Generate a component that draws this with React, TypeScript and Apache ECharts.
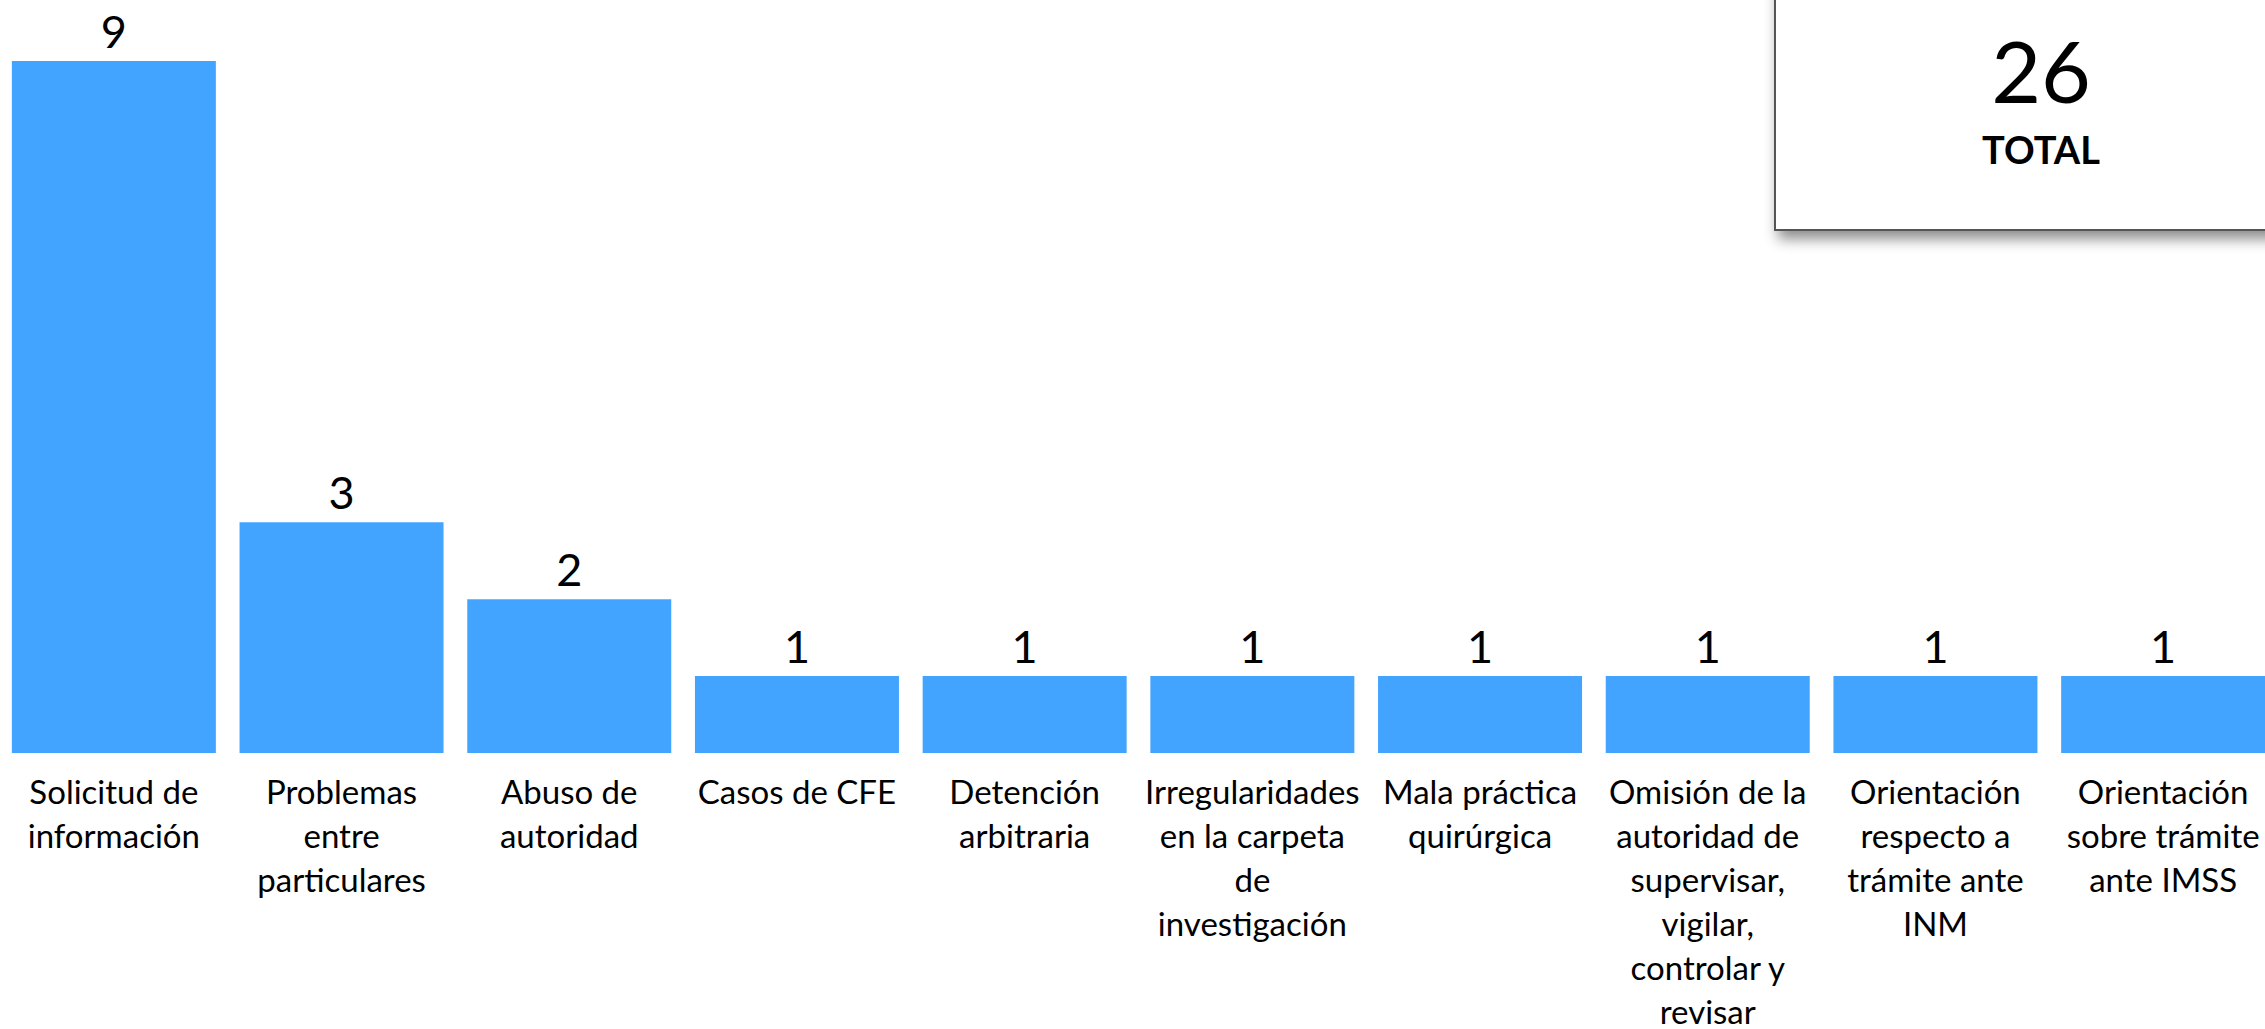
import React, { useEffect, useRef } from "react";
import * as echarts from "echarts";

const categories: string[] = [
  "Solicitud de\ninformación",
  "Problemas\nentre\nparticulares",
  "Abuso de\nautoridad",
  "Casos de CFE",
  "Detención\narbitraria",
  "Irregularidades\nen la carpeta\nde\ninvestigación",
  "Mala práctica\nquirúrgica",
  "Omisión de la\nautoridad de\nsupervisar,\nvigilar,\ncontrolar y\nrevisar",
  "Orientación\nrespecto a\ntrámite ante\nINM",
  "Orientación\nsobre trámite\nante IMSS",
];
const values: number[] = [9, 3, 2, 1, 1, 1, 1, 1, 1, 1];
const totalValue = "26";
const totalLabel = "TOTAL";

const FONT = "Lato, 'Liberation Sans', sans-serif";

export default function App() {
  const ref = useRef<HTMLDivElement>(null);
  useEffect(() => {
    if (!ref.current) return;
    const chart = echarts.init(ref.current, null, { renderer: "svg" });
    chart.setOption({
      animation: false,
      backgroundColor: "#ffffff",
      textStyle: { fontFamily: FONT },
      grid: {
        left: 0,
        top: 61,
        width: 2277,
        height: 692,
        containLabel: false,
        outerBoundsMode: "none",
      },
      xAxis: {
        type: "category",
        data: categories,
        axisLine: { show: false },
        axisTick: { show: false },
        axisLabel: {
          interval: 0,
          fontSize: 33,
          lineHeight: 44,
          margin: 16,
          color: "#000",
          fontFamily: FONT,
          align: "center",
        },
      },
      yAxis: {
        type: "value",
        min: 0,
        max: 9,
        show: false,
        splitLine: { show: false },
      },
      series: [
        {
          type: "bar",
          data: values,
          barWidth: 204,
          itemStyle: { color: "#42A4FE" },
          label: {
            show: true,
            position: "top",
            distance: 8,
            fontSize: 45,
            color: "#000",
            fontFamily: FONT,
          },
        },
      ],
      graphic: [
        {
          type: "rect",
          shape: { x: 1775, y: -20, width: 560, height: 250 },
          style: {
            fill: "#ffffff",
            stroke: "#555555",
            lineWidth: 2,
            shadowBlur: 14,
            shadowOffsetX: 4,
            shadowOffsetY: 8,
            shadowColor: "rgba(0,0,0,0.45)",
          },
          z: 10,
        },
        {
          type: "text",
          x: 2041,
          y: 69,
          style: {
            text: totalValue,
            fontSize: 86,
            fontFamily: FONT,
            fill: "#000",
            align: "center",
            verticalAlign: "middle",
          },
          z: 11,
        },
        {
          type: "text",
          x: 2041,
          y: 149,
          style: {
            text: totalLabel,
            fontSize: 38,
            fontWeight: "bold",
            fontFamily: FONT,
            fill: "#000",
            align: "center",
            verticalAlign: "middle",
          },
          z: 11,
        },
      ],
    });
    return () => chart.dispose();
  }, []);
  return (
    <div style={{ position: "absolute", left: 0, top: 0, width: 2265, height: 1029, overflow: "hidden" }}>
      <div ref={ref} style={{ width: 2265, height: 1029 }} />
    </div>
  );
}
